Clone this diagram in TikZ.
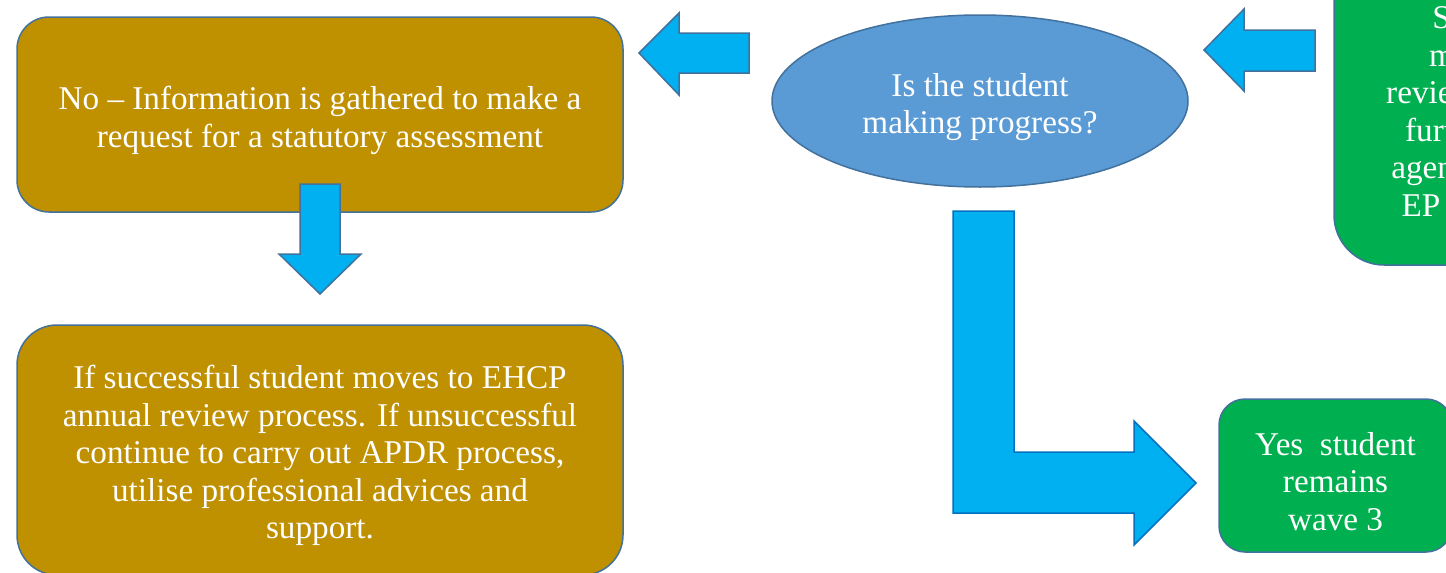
\documentclass[tikz,border=0pt]{standalone}
\usepackage{fontspec}
\setmainfont{Liberation Serif}
\usetikzlibrary{shapes.geometric}
\definecolor{gold}{RGB}{191,144,0}
\definecolor{edge}{RGB}{65,113,156}
\definecolor{sky}{RGB}{0,176,240}
\definecolor{oval}{RGB}{91,155,213}
\definecolor{leaf}{RGB}{0,176,80}
\definecolor{deep}{RGB}{0,112,192}
\newcommand\topgap{\rule{0pt}{35pt}}
\tikzset{
  box/.style={draw=edge,line width=1.5pt,text=white,align=center,inner sep=0pt,
    font=\fontsize{33.2}{37.5}\selectfont},
  blk/.style={draw=edge,fill=sky,line width=1.5pt,line join=miter},
}
\begin{document}
\begin{tikzpicture}[x=1pt,y=-1pt]
\useasboundingbox (0,0) rectangle (1446,573);
\clip (0,0) rectangle (1446,573);
\node[box,fill=gold,rounded corners=32pt,minimum width=606pt,minimum height=195pt] (request) at (320,114.5)
  {\topgap No – Information is gathered to make a\\request for a statutory assessment};
\node[box,fill=gold,rounded corners=40pt,minimum width=606pt,minimum height=250pt] (outcome) at (320,450)
  {\topgap If successful student moves to EHCP\\annual review process. If unsuccessful\\continue to carry out APDR process,\\utilise professional advices and\\support.};
\node[box,ellipse,fill=oval,minimum width=416pt,minimum height=172pt] (progress) at (980,101)
  {\topgap Is the student\\making progress?};
\node[box,fill=leaf,rounded corners=50pt,minimum width=298pt,minimum height=320pt] (review) at (1483,105)
  {\topgap SENCo\\makes a\\reviews with a\\further help\\agencies such\\EP or SALT};
\node[box,fill=leaf,rounded corners=26pt,minimum width=233pt,minimum height=153pt] (stay) at (1335.5,475.5)
  {\topgap Yes~ student\\remains\\wave 3};
\draw[blk](749,33)--(679,33)--(679,13)--(639,53)--(679,95)--(679,73)--(749,73)--cycle;
\draw[blk](1315,30)--(1244,30)--(1244,9)--(1204,50)--(1244,91)--(1244,71)--(1315,71)--cycle;
\draw[blk](300,184)--(340,184)--(340,254)--(361,254)--(320,294)--(279,254)--(300,254)--cycle;
\draw[blk,draw=deep](953,211)--(1014,211)--(1014,452)--(1134,452)--(1134,421)--(1196,483)
  --(1134,545)--(1134,513)--(953,513)--cycle;
\end{tikzpicture}
\end{document}
